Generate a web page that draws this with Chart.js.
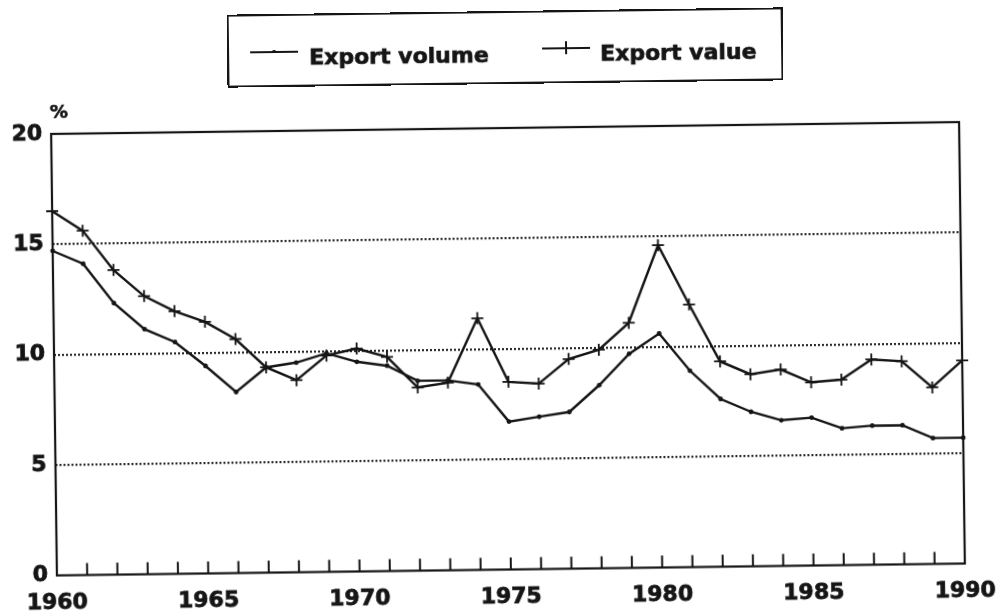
<!DOCTYPE html>
<html>
<head>
<meta charset="utf-8">
<title>Export volume and export value, 1960–1990</title>
<script src="https://cdn.jsdelivr.net/npm/chart.js@4/dist/chart.umd.min.js"></script>
<style>
  html, body { margin: 0; padding: 0; background: #fff; overflow: hidden; }
  #page {
    position: relative; width: 1000px; height: 615px;
    transform: rotate(-0.75deg); transform-origin: 508px 349px;
  }
  #chart { position: absolute; left: 0; top: 0; }
  #legendBox {
    position: absolute; left: 231px; top: 11px; width: 556px; height: 73px;
    box-sizing: border-box; border: 2px solid #151515;
  }
  .legText {
    position: absolute; top: 42px; line-height: 22px; white-space: nowrap;
    font: bold 22px "DejaVu Sans", sans-serif; color: #151515;
    -webkit-text-stroke: 0.7px #151515;
  }
  .legLine { position: absolute; height: 2px; background: #151515; }
  .legMark { position: absolute; background: #151515; }
</style>
</head>
<body>
<div id="page">
  <canvas id="chart" width="1000" height="615"></canvas>
  <div id="legendBox"></div>
</div>
<script>
// Annual rates in per cent
const years = [1960, 1961, 1962, 1963, 1964, 1965, 1966, 1967, 1968, 1969,
               1970, 1971, 1972, 1973, 1974, 1975, 1976, 1977, 1978, 1979,
               1980, 1981, 1982, 1983, 1984, 1985, 1986, 1987, 1988, 1989, 1990];
const exportVolume = [14.7, 14.1, 12.3, 11.1, 10.5, 9.4, 8.2, 9.3, 9.5, 9.9,
                      9.5, 9.3, 8.6, 8.6, 8.4, 6.7, 6.9, 7.1, 8.3, 9.7,
                      10.6, 8.9, 7.6, 7.0, 6.6, 6.7, 6.2, 6.3, 6.3, 5.7, 5.7];
const exportValue = [16.5, 15.6, 13.8, 12.6, 11.9, 11.4, 10.6, 9.3, 8.7, 9.8,
                     10.1, 9.7, 8.3, 8.5, 11.4, 8.5, 8.4, 9.5, 9.9, 11.1,
                     14.6, 11.9, 9.3, 8.7, 8.9, 8.3, 8.4, 9.3, 9.2, 8.0, 9.2];
const seriesNames = ['Export volume', 'Export value'];
const xTickYears = [1960, 1965, 1970, 1975, 1980, 1985, 1990];
const yTickValues = [0, 5, 10, 15, 20];
const yUnit = '%';

const INK = '#151515';
const FONT = '"DejaVu Sans", sans-serif';
// Plot rectangle on the canvas
const AREA = { left: 54, top: 128, right: 962, bottom: 569.5 };

// Plot frame, small inward year ticks on the time axis, and the unit label
const framePlugin = {
  id: 'frame',
  afterDatasetsDraw(chart) {
    const ctx = chart.ctx;
    const a = chart.chartArea;
    const xs = chart.scales.x;
    ctx.save();
    ctx.setLineDash([]);
    ctx.strokeStyle = INK;
    ctx.lineWidth = 2.2;
    ctx.strokeRect(a.left, a.top, a.right - a.left, a.bottom - a.top);
    ctx.fillStyle = INK;
    for (let i = 1; i < years.length - 1; i++) {
      const x = xs.getPixelForValue(years[i]);
      ctx.fillRect(x - 1, a.bottom - 12, 2, 12);
    }
    ctx.font = 'bold 18px ' + FONT;
    ctx.textAlign = 'center';
    ctx.textBaseline = 'middle';
    ctx.lineWidth = 0.6;
    ctx.fillText(yUnit, a.left + 8, a.top - 21);
    ctx.strokeText(yUnit, a.left + 8, a.top - 21);
    ctx.restore();
  }
};

const tickFont = { family: FONT, weight: 'bold', size: 22 };

const chart = new Chart(document.getElementById('chart'), {
  type: 'line',
  data: {
    datasets: [
      {
        label: seriesNames[0],
        data: years.map((yr, i) => ({ x: yr, y: exportVolume[i] })),
        borderColor: INK, borderWidth: 2.4, tension: 0, clip: false,
        pointStyle: 'circle', pointRadius: 2.4, pointBackgroundColor: INK,
        pointBorderWidth: 0
      },
      {
        label: seriesNames[1],
        data: years.map((yr, i) => ({ x: yr, y: exportValue[i] })),
        borderColor: INK, borderWidth: 2.4, tension: 0, clip: false,
        pointStyle: 'cross', pointRadius: 6, pointBorderColor: INK,
        pointBorderWidth: 1.8
      }
    ]
  },
  options: {
    responsive: false,
    animation: false,
    events: [],
    layout: { padding: { left: 0, top: AREA.top, right: 1000 - AREA.right, bottom: 0 } },
    plugins: { legend: { display: false }, tooltip: { enabled: false } },
    scales: {
      x: {
        type: 'linear', min: 1960, max: 1990,
        afterBuildTicks: s => { s.ticks = xTickYears.map(v => ({ value: v })); },
        afterFit: s => {
          s.height = 615 - AREA.bottom;
          s.paddingLeft = 0;
          s.paddingRight = 0;
        },
        grid: { display: false, drawTicks: false },
        border: { display: false },
        ticks: {
          padding: 15, color: INK, font: tickFont, maxRotation: 0, autoSkip: false,
          textStrokeColor: INK, textStrokeWidth: 0.8,
          callback: v => String(v)
        }
      },
      y: {
        min: 0, max: 20,
        afterBuildTicks: s => { s.ticks = yTickValues.map(v => ({ value: v })); },
        afterFit: s => {
          s.width = AREA.left;
          s.paddingTop = 0;
          s.paddingBottom = 0;
        },
        grid: {
          drawTicks: false, lineWidth: 2.2,
          color: c => (c.tick && (c.tick.value === 0 || c.tick.value === 20)) ? 'rgba(0,0,0,0)' : '#2a2a2a'
        },
        border: { display: false, dash: [2, 2] },
        ticks: {
          padding: 9, color: INK, font: tickFont, autoSkip: false,
          textStrokeColor: INK, textStrokeWidth: 0.8
        }
      }
    }
  },
  plugins: [framePlugin]
});

// Boxed legend above the plot, built from the dataset labels
(function buildLegend() {
  const page = document.getElementById('page');
  const items = [
    { lineLeft: 254, textLeft: 313, mark: 'dot' },
    { lineLeft: 546, textLeft: 604, mark: 'cross' }
  ];
  chart.data.datasets.forEach((ds, i) => {
    const it = items[i];
    const line = document.createElement('div');
    line.className = 'legLine';
    line.style.left = it.lineLeft + 'px';
    line.style.top = '48px';
    line.style.width = '48px';
    page.appendChild(line);
    const mark = document.createElement('div');
    mark.className = 'legMark';
    if (it.mark === 'cross') {
      Object.assign(mark.style, { left: (it.lineLeft + 23) + 'px', top: '42px', width: '2px', height: '13px' });
    } else {
      Object.assign(mark.style, { left: (it.lineLeft + 22) + 'px', top: '47px', width: '4px', height: '3px', borderRadius: '2px' });
    }
    page.appendChild(mark);
    const txt = document.createElement('div');
    txt.className = 'legText';
    txt.style.left = it.textLeft + 'px';
    txt.textContent = ds.label;
    page.appendChild(txt);
  });
})();
</script>
</body>
</html>
